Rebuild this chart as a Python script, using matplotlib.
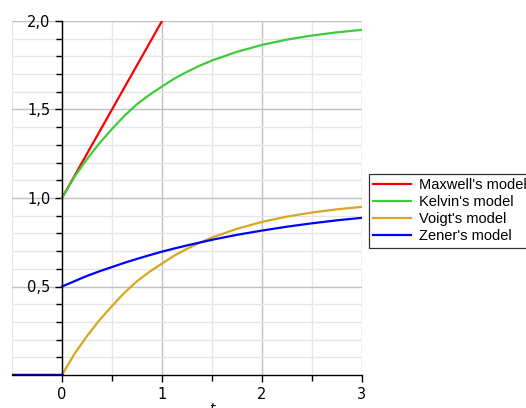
import matplotlib.pyplot as plt
import numpy as np

# response curves of the four viscoelastic models
t_neg = [-0.5, 0.0]
zero_neg = [0.0, 0.0]

t = [0.0, 0.125, 0.25, 0.375, 0.5, 0.625, 0.75, 0.875, 1.0, 1.125, 1.25, 1.375,
     1.5, 1.75, 2.0, 2.25, 2.5, 2.75, 3.0]
kelvin = [1.0, 1.12, 1.22, 1.31, 1.39, 1.465, 1.53, 1.583, 1.63, 1.675, 1.713, 1.747,
          1.777, 1.826, 1.865, 1.895, 1.918, 1.936, 1.95]
voigt = [0.0, 0.12, 0.22, 0.31, 0.39, 0.465, 0.53, 0.583, 0.63, 0.675, 0.713, 0.747,
         0.777, 0.826, 0.865, 0.895, 0.918, 0.936, 0.95]
zener = [0.5, 0.53, 0.56, 0.586, 0.61, 0.634, 0.656, 0.677, 0.697, 0.715, 0.732, 0.748,
         0.764, 0.792, 0.816, 0.838, 0.857, 0.874, 0.888]

t_maxwell = [0.0, 1.0]
maxwell = [1.0, 2.0]

fig = plt.figure(figsize=(5.26, 4.08), dpi=100)
ax = fig.add_axes([12/526, 33/408, 350/526, 354/408])

# grid: darker major lines, pale minor lines
ax.set_xlim(-0.5, 3)
ax.set_ylim(0, 2)
ax.set_xticks([0, 1, 2, 3])
ax.set_xticks([0.5, 1.5, 2.5], minor=True)
ax.set_yticks([0.5, 1.0, 1.5, 2.0])
ax.set_yticks(np.arange(0.1, 2.0, 0.1), minor=True)
ax.set_yticklabels(["0,5", "1,0", "1,5", "2,0"])
ax.grid(True, which='major', color='#c0c0c0', lw=1.0, zorder=0)
ax.grid(True, which='minor', color='#e6e6e6', lw=1.0, zorder=0)
ax.axvline(-0.5, color='#e6e6e6', lw=1.0, zorder=0)
ax.set_axisbelow(True)

ax.spines['left'].set_position(('data', 0))
ax.spines['top'].set_visible(False)
ax.spines['right'].set_visible(False)
ax.spines['left'].set_linewidth(1.0)
ax.spines['bottom'].set_linewidth(1.0)
ax.tick_params(which='major', direction='out', length=5, width=1, labelsize=10.5)
ax.tick_params(which='minor', direction='out', length=4, width=1)

# curves
ax.plot(t_maxwell, maxwell, color='#ff0000', lw=1.6, label="Maxwell's model")
ax.plot(t, kelvin, color='#3ccc3c', lw=1.6, label="Kelvin's model")
ax.plot(t, voigt, color='#daa520', lw=1.6, label="Voigt's model")
ax.plot(t, zener, color='#0000ff', lw=1.6, label="Zener's model")
for c in ['#ff0000', '#3ccc3c', '#daa520', '#0000ff']:
    ax.plot(t_neg, zero_neg, color=c, lw=1.6)
ax.plot(t_neg, zero_neg, color='#00007a', lw=1.8)

leg = fig.legend(loc='upper left', bbox_to_anchor=(369/526, 234/408),
                 prop={'family': 'Liberation Sans', 'size': 10.5},
                 frameon=True, fancybox=False, edgecolor='black',
                 handlelength=2.6, handletextpad=0.5, labelspacing=0.2,
                 borderpad=0.3, borderaxespad=0)
leg.get_frame().set_linewidth(0.9)

fig.text(212/526, 6/408, 't', style='italic', fontsize=10, ha='center', va='top')

plt.savefig('out.png', dpi=100)
